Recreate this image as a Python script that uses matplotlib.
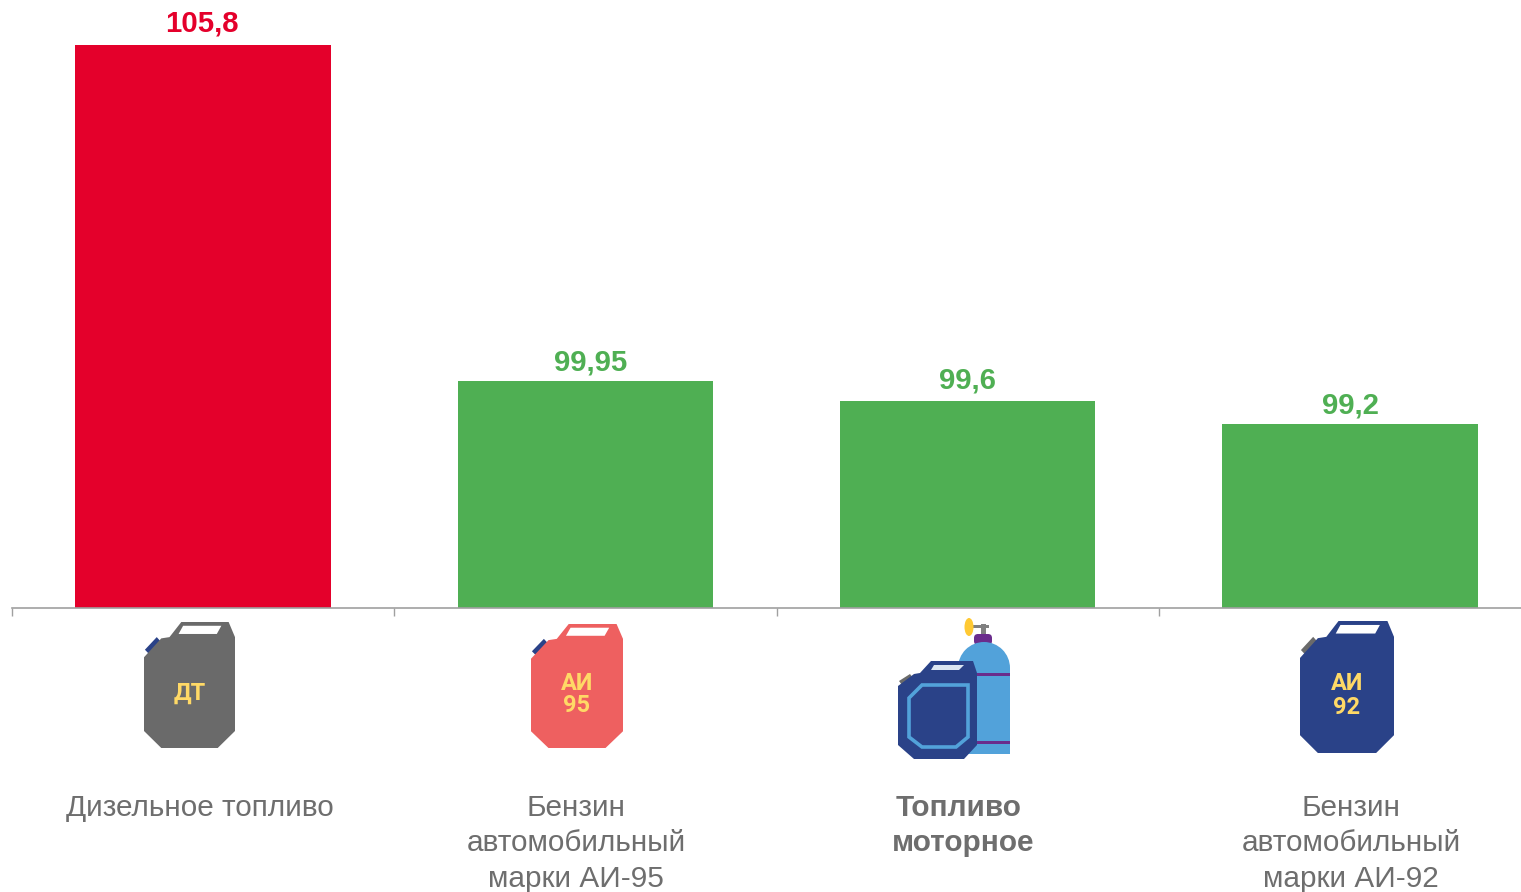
import matplotlib
matplotlib.use('Agg')
import matplotlib.pyplot as plt
from matplotlib.patches import Polygon, FancyBboxPatch, Rectangle, Ellipse

W, H, DPI = 1521, 892, 100
plt.rcParams['font.family'] = ['Liberation Sans', 'DejaVu Sans']

values = [105.8, 99.95, 99.6, 99.2]
value_labels = ['105,8', '99,95', '99,6', '99,2']
categories = [
    ['Дизельное топливо'],
    ['Бензин', 'автомобильный', 'марки АИ-95'],
    ['Топливо', 'моторное'],
    ['Бензин', 'автомобильный', 'марки АИ-92'],
]

RED = '#E4002B'
GREEN = '#4FAF53'
TEXT = '#6E6E6E'
AXIS = '#A0A0A0'
BLUE = '#2A4288'
SKY = '#52A2DA'
YELLOW = '#FFD966'
PURPLE = '#6A2C8C'
GREY_CAN = '#6A6A6A'
SALMON = '#EE6060'
bar_colors = [RED, GREEN, GREEN, GREEN]
label_dx = [-1, 5, 0, 0]   # value labels aren't quite centred in the original
label_dy = [8, 5, 7, 5]
cat_x = [[200], [576, 576, 576], [959, 963], [1351, 1351, 1351]]

# jerrycan outline, unit coords (y down)
CAN = [(.41, 0), (.93, 0), (1, .12), (1, .865), (.81, 1), (.19, 1), (0, .865), (0, .28),
       (.19, .13), (.28, .12)]
WINDOW = [(.43, .03), (.85, .03), (.80, .095), (.38, .095)]
CAP = [(.01, .22), (.14, .12), (.19, .16), (.05, .25)]

fig = plt.figure(figsize=(W / DPI, H / DPI), dpi=DPI, facecolor='white')
ax = fig.add_axes([12 / W, (H - 608) / H, (W - 12) / W, 608 / H])
ax.set_xlim(-0.5, -0.5 + (W - 12) / 382.3)
ax.set_ylim(96, 96 + 608 / 57.4)
ax.bar(range(4), values, width=0.668, color=bar_colors, zorder=2)
for s in ['top', 'left', 'right']:
    ax.spines[s].set_visible(False)
ax.spines['bottom'].set_color(AXIS)
ax.spines['bottom'].set_linewidth(1.2)
ax.set_xticks([-0.5, 0.5, 1.5, 2.5])
ax.set_xticklabels([])
ax.set_yticks([])
ax.tick_params(axis='x', length=6, width=1, color=AXIS, direction='out')

for i, (v, lab, col) in enumerate(zip(values, value_labels, bar_colors)):
    ax.annotate(lab, xy=(i, v), xytext=(label_dx[i] * .72, label_dy[i] * .72),
                textcoords='offset points', ha='center', va='bottom',
                fontsize=21.2, fontweight='bold', color=col, annotation_clip=False)

# overlay in pixel coords for the icons and the multi-line labels
pix = fig.add_axes([0, 0, 1, 1], facecolor='none')
pix.set_xlim(0, W)
pix.set_ylim(H, 0)
pix.axis('off')


def jerrycan(x0, y0, x1, y1, body, cap, letters=None, ty=None):
    w, h = x1 - x0, y1 - y0
    def scaled(pts):
        return [(x0 + px * w, y0 + py * h) for px, py in pts]
    pix.add_patch(Polygon(scaled(CAP), color=cap, lw=0))
    pix.add_patch(Polygon(scaled(CAN), color=body, lw=0))
    pix.add_patch(Polygon(scaled(WINDOW), color='white', lw=0))
    if letters:
        for t, yy in zip(letters, ty):
            pix.text((x0 + x1) / 2, yy, t, color=YELLOW, fontsize=17, fontweight='bold',
                     family=['Roboto', 'DejaVu Sans'], ha='center', va='center')


jerrycan(144, 622, 235, 748, GREY_CAN, BLUE, ['ДТ'], [693])
jerrycan(531, 624, 623, 748, SALMON, BLUE, ['АИ', '95'], [683, 706])
jerrycan(1300, 621, 1394, 753, BLUE, GREY_CAN, ['АИ', '92'], [684, 708])

# cylinder + can icon
pix.add_patch(Rectangle((965, 625), 24, 3, color='#808080', lw=0))
pix.add_patch(Rectangle((981, 624), 5, 11, color='#808080', lw=0))
pix.add_patch(Ellipse((969, 627), 9, 18, color='#FFC933', lw=0))
pix.add_patch(FancyBboxPatch((974, 634), 18, 11, boxstyle='round,pad=0,rounding_size=4',
                             color=PURPLE, lw=0))
pix.add_patch(Ellipse((984, 668), 52, 52, color=SKY, lw=0))
pix.add_patch(Rectangle((958, 668), 52, 86, color=SKY, lw=0))
pix.add_patch(Rectangle((958, 673), 52, 3, color=PURPLE, lw=0))
pix.add_patch(Rectangle((958, 741), 52, 3, color=PURPLE, lw=0))
pix.add_patch(Polygon([(899, 681), (910, 674), (913, 678), (902, 685)], color=GREY_CAN, lw=0))
pix.add_patch(Polygon([(898, 686), (914, 674), (920, 673), (931, 661), (973, 661), (977, 673),
                       (977, 745), (964, 759), (914, 759), (898, 745)],
                      color=BLUE, lw=0))
pix.add_patch(Polygon([(934, 665), (964, 665), (959, 670), (931, 670)], color='#DCE6F2', lw=0))
pix.add_patch(Polygon([(922, 685), (968, 685), (968, 737), (956, 747), (922, 747), (909, 737),
                       (909, 698)], facecolor='none', edgecolor=SKY, lw=2.6))

# category labels, baseline at y, 35 px per line
for i, lines in enumerate(categories):
    bold = i == 2
    for j, t in enumerate(lines):
        pix.text(cat_x[i][j], 816 + j * 35.3, t, color=TEXT, fontsize=21.4, ha='center', va='baseline',
                 fontweight='bold' if bold else 'normal')

fig.savefig('out.png', dpi=DPI, facecolor='white')
plt.close(fig)
